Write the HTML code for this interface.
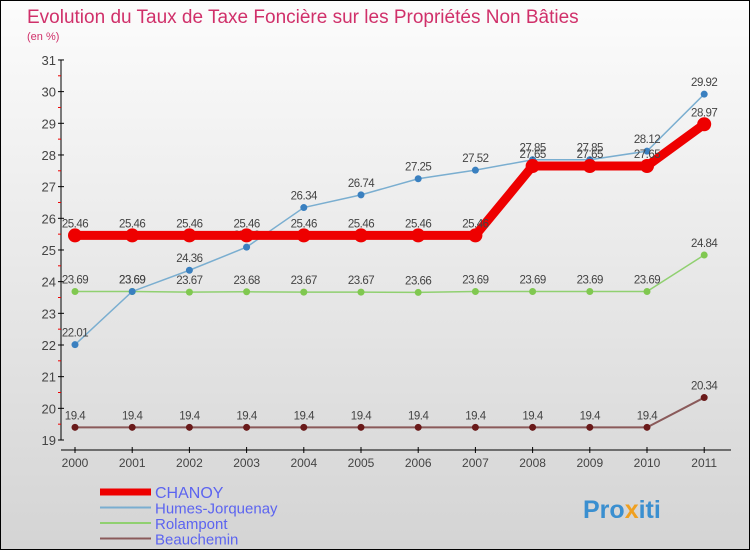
<!DOCTYPE html>
<html><head><meta charset="utf-8"><style>
body{margin:0;}
#c{width:750px;height:550px;position:relative;font-family:"Liberation Sans",sans-serif;}
</style></head><body>
<div id="c">
<svg id="s" width="750" height="550" xmlns="http://www.w3.org/2000/svg">
<defs><linearGradient id="bg" x1="0" y1="0" x2="0" y2="1"><stop offset="0" stop-color="#fcfcfc"/><stop offset="1" stop-color="#d4d4d4"/></linearGradient></defs>
<rect x="0.5" y="0.5" width="749" height="549" fill="url(#bg)" stroke="#000"/>
<text x="27" y="23" font-size="19" fill="#d0306a">Evolution du Taux de Taxe Foncière sur les Propriétés Non Bâties</text>
<text x="27" y="40" font-size="11" fill="#d0306a">(en %)</text>
<g id="axes"></g><g id="series"></g><g id="legend"></g>
<text x="583" y="518" font-size="25" font-weight="bold" fill="#3a8fd0">Pro<tspan fill="#f0a020">x</tspan>iti</text>
</svg></div>
<script>
const years=[2000,2001,2002,2003,2004,2005,2006,2007,2008,2009,2010,2011];
const chanoy=[25.46,25.46,25.46,25.46,25.46,25.46,25.46,25.46,27.65,27.65,27.65,28.97];
const humes=[22.01,23.69,24.36,25.09,26.34,26.74,27.25,27.52,27.85,27.85,28.12,29.92];
const rolampont=[23.69,23.69,23.67,23.68,23.67,23.67,23.66,23.69,23.69,23.69,23.69,24.84];
const beauchemin=[19.4,19.4,19.4,19.4,19.4,19.4,19.4,19.4,19.4,19.4,19.4,20.34];
const yTicks=[19,20,21,22,23,24,25,26,27,28,29,30,31];
const NS="http://www.w3.org/2000/svg";
const X=i=>75+i*57.2;
const Y=v=>440-(v-19)*31.67;
function mk(p,t,a){const e=document.createElementNS(NS,t);for(const k in a)e.setAttribute(k,a[k]);p.appendChild(e);return e;}
const ax=document.getElementById('axes');
let l=mk(ax,'line',{x1:61,y1:60,x2:61,y2:440,stroke:'#000'});


l=mk(ax,'line',{x1:61,y1:450,x2:731,y2:450,stroke:'#000'});


yTicks.forEach(v=>{
  mk(ax,'line',{x1:58,y1:Y(v),x2:64,y2:Y(v),stroke:'#000'});
  if(v<31)mk(ax,'line',{x1:58,y1:Y(v+0.5),x2:61,y2:Y(v+0.5),stroke:'#e00'});
  const t=mk(ax,'text',{x:56,y:Y(v)+5,'font-size':13,'text-anchor':'end',fill:'#444'});
  t.textContent=v;
  
  
});
years.forEach((y,i)=>{
  mk(ax,'line',{x1:X(i),y1:447,x2:X(i),y2:453,stroke:'#000'});
  const t=mk(ax,'text',{x:X(i),y:467,'font-size':12,'text-anchor':'middle',fill:'#444'});
  t.textContent=y;
  
  
});
const sg=document.getElementById('series');
const defs=[
 {d:beauchemin,c:'#8a5a5a',m:'#6a1a1a',w:2,r:3.5,n:'beauchemin'},
 {d:rolampont,c:'#90d070',m:'#80c850',w:1.5,r:3.5,n:'rolampont'},
 {d:humes,c:'#7aaed0',m:'#3a80c0',w:1.5,r:3.5,n:'humes-jorquenay'},
 {d:chanoy,c:'#ee0000',m:'#ee0000',w:9,r:7,n:'chanoy'}];
defs.forEach(s=>{
  const g=mk(sg,'g',{});
  
  
  const p=mk(g,'polyline',{points:s.d.map((v,i)=>X(i)+','+Y(v)).join(' '),fill:'none',stroke:s.c,'stroke-width':s.w});
  
  
  s.d.forEach((v,i)=>{
    const c=mk(g,'circle',{cx:X(i),cy:Y(v),r:s.r,fill:s.m});
    
    
    const t=mk(g,'text',{x:X(i),y:Y(v)-8,'font-size':11.5,'text-anchor':'middle',fill:'#444','letter-spacing':'-0.5'});
    t.textContent=v;
    
    
  });
});
const lg=document.getElementById('legend');
[['CHANOY','#ee0000',7],['Humes-Jorquenay','#7aaed0',2],['Rolampont','#90d070',2],['Beauchemin','#8a5a5a',2]].forEach((e,i)=>{
  const y=492+i*15.5;
  const ln=mk(lg,'line',{x1:100,y1:y,x2:151,y2:y,stroke:e[1],'stroke-width':e[2]});
  
  
  const t=mk(lg,'text',{x:155,y:y+6,'font-size':i==0?16:15,fill:'#5c64f0'});
  t.textContent=e[0];
  
  
});
</script>
</body></html>
